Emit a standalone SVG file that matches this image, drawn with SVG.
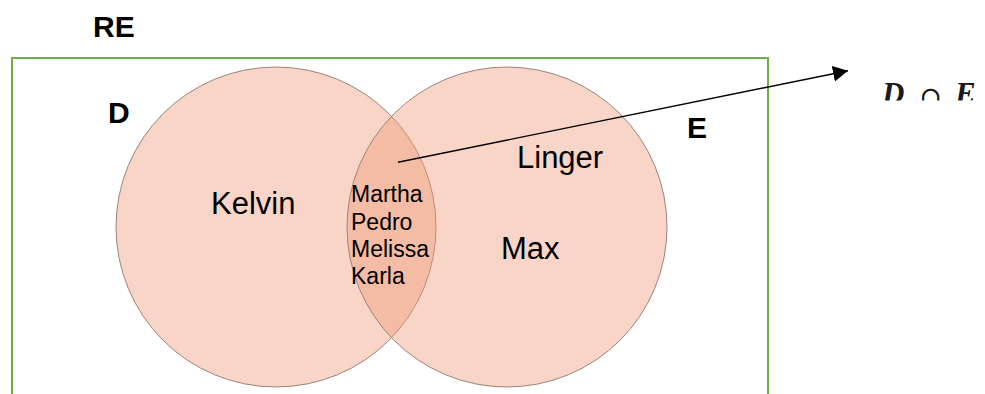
<svg xmlns="http://www.w3.org/2000/svg" width="985" height="394" viewBox="0 0 985 394">
  <defs>
    <style>
      .lbl { font-family: "Liberation Sans", Arial, sans-serif; fill: #000; }
      .bold { font-weight: bold; font-size: 30px; }
      .big { font-size: 31px; }
      .small { font-size: 23px; }
      .set { fill: #EE9B77; fill-opacity: 0.42; stroke: #9A847A; stroke-width: 1; }
      .math { font-family: "Liberation Serif", "Times New Roman", serif; font-weight: bold; font-style: italic; font-size: 31px; fill: #1a1a1a; }
      .mathop { font-family: "DejaVu Serif", "Liberation Serif", serif; font-size: 28px; fill: #1a1a1a; }
    </style>
    <marker id="arrow" markerWidth="16" markerHeight="16" refX="15" refY="8" orient="auto" markerUnits="userSpaceOnUse">
      <path d="M0,0 L15,8 L0,16 Z" fill="#000"/>
    </marker>
    <clipPath id="mathclip">
      <rect x="850" y="60" width="135" height="40.5"/>
    </clipPath>
  </defs>

  <rect width="985" height="394" fill="#fff"/>

  <g id="universe">
    <rect x="12" y="58" width="756" height="345" fill="none" stroke="#70AD47" stroke-width="2"/>
    <text class="lbl bold" x="93" y="37">RE</text>
  </g>

  <g id="set-D">
    <circle class="set" cx="276" cy="227" r="160"/>
    <text class="lbl bold" x="108" y="123">D</text>
    <text class="lbl big" x="211" y="214">Kelvin</text>
  </g>

  <g id="set-E">
    <circle class="set" cx="507" cy="227" r="160"/>
    <text class="lbl bold" x="687" y="138">E</text>
    <text class="lbl big" x="517" y="168">Linger</text>
    <text class="lbl big" x="501" y="259">Max</text>
  </g>

  <g id="intersection">
    <text class="lbl small" x="351" y="202">Martha</text>
    <text class="lbl small" x="351" y="230">Pedro</text>
    <text class="lbl small" x="351" y="257">Melissa</text>
    <text class="lbl small" x="351" y="284">Karla</text>
  </g>

  <g id="connectors">
    <line x1="398" y1="162.3" x2="848" y2="70.7" stroke="#000" stroke-width="1.4" marker-end="url(#arrow)"/>
  </g>

  <g id="label-intersection" clip-path="url(#mathclip)">
    <text class="math" x="882" y="103.5">D</text>
    <text class="mathop" x="919" y="106">∩</text>
    <text class="math" x="955" y="103.5">E</text>
  </g>
</svg>
